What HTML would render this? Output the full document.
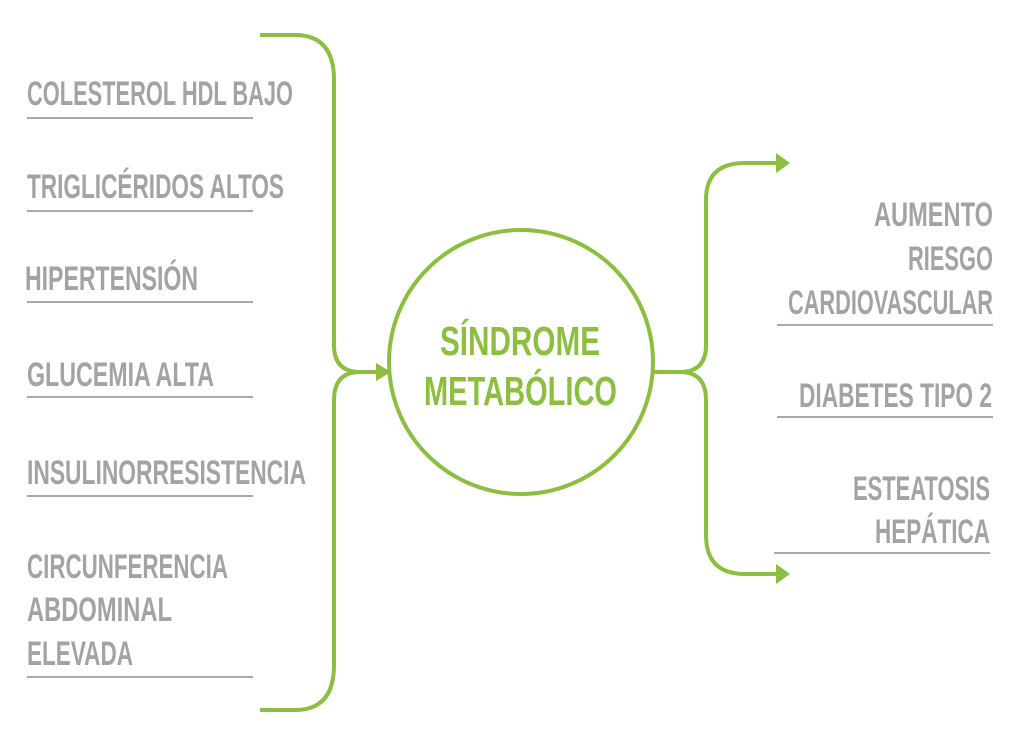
<!DOCTYPE html>
<html><head><meta charset="utf-8"><style>html,body{margin:0;padding:0;background:#fff}svg{display:block}</style></head>
<body>
<svg width="1024" height="748" viewBox="0 0 1024 748" xmlns="http://www.w3.org/2000/svg">
<g fill="none" stroke="#8cbf3f" stroke-width="4">
<path d="M260 35 H295 Q334 35 334 80 V345 Q334 372 360 372 H378"/>
<path d="M260 710 H295 Q334 710 334 665 V400 Q334 372 360 372"/>
<circle cx="521" cy="362" r="132"/>
<path d="M654 372 H680 Q706 372 706 345 V200 Q706 163 745 163 H778"/>
<path d="M680 372 Q706 372 706 400 V535 Q706 574 745 574 H778"/>
</g>
<g fill="#8cbf3f">
<path d="M376 363 L391 372 L376 381 Z"/>
<path d="M776 153 L790 163 L776 173 Z"/>
<path d="M776 564 L790 574 L776 584 Z"/>
</g>
<g stroke="#a9a9a9" stroke-width="2">
<line x1="27" y1="118" x2="253" y2="118"/>
<line x1="27" y1="211" x2="253" y2="211"/>
<line x1="27" y1="302" x2="253" y2="302"/>
<line x1="27" y1="397" x2="253" y2="397"/>
<line x1="27" y1="496" x2="253" y2="496"/>
<line x1="27" y1="677" x2="253" y2="677"/>
<line x1="777" y1="325" x2="993" y2="325"/>
<line x1="777" y1="417" x2="993" y2="417"/>
<line x1="774" y1="553" x2="990" y2="553"/>
</g>
<g fill="#a3a3a3" font-family="Liberation Sans Narrow, Liberation Sans, sans-serif" font-weight="bold" font-size="34" lengthAdjust="spacingAndGlyphs">
<text x="27" y="105" textLength="266" lengthAdjust="spacingAndGlyphs">COLESTEROL HDL BAJO</text>
<text x="27" y="198" textLength="257" lengthAdjust="spacingAndGlyphs">TRIGLICÉRIDOS ALTOS</text>
<text x="25" y="290" textLength="173" lengthAdjust="spacingAndGlyphs">HIPERTENSIÓN</text>
<text x="27" y="386" textLength="187" lengthAdjust="spacingAndGlyphs">GLUCEMIA ALTA</text>
<text x="27" y="484" textLength="279" lengthAdjust="spacingAndGlyphs">INSULINORRESISTENCIA</text>
<text x="27" y="578" textLength="201" lengthAdjust="spacingAndGlyphs">CIRCUNFERENCIA</text>
<text x="27" y="621" textLength="145" lengthAdjust="spacingAndGlyphs">ABDOMINAL</text>
<text x="27" y="665" textLength="106" lengthAdjust="spacingAndGlyphs">ELEVADA</text>
<text x="874" y="226" textLength="119" lengthAdjust="spacingAndGlyphs">AUMENTO</text>
<text x="908" y="270" textLength="85" lengthAdjust="spacingAndGlyphs">RIESGO</text>
<text x="788" y="314" textLength="205" lengthAdjust="spacingAndGlyphs">CARDIOVASCULAR</text>
<text x="799" y="407" textLength="193" lengthAdjust="spacingAndGlyphs">DIABETES TIPO 2</text>
<text x="853" y="500" textLength="137" lengthAdjust="spacingAndGlyphs">ESTEATOSIS</text>
<text x="875" y="543" textLength="115" lengthAdjust="spacingAndGlyphs">HEPÁTICA</text>
</g>
<g fill="#8cbf3f" font-family="Liberation Sans Narrow, Liberation Sans, sans-serif" font-weight="bold" font-size="41">
<text x="440" y="355" textLength="160" lengthAdjust="spacingAndGlyphs">SÍNDROME</text>
<text x="424" y="405" textLength="193" lengthAdjust="spacingAndGlyphs">METABÓLICO</text>
</g>
</svg>
</body></html>
